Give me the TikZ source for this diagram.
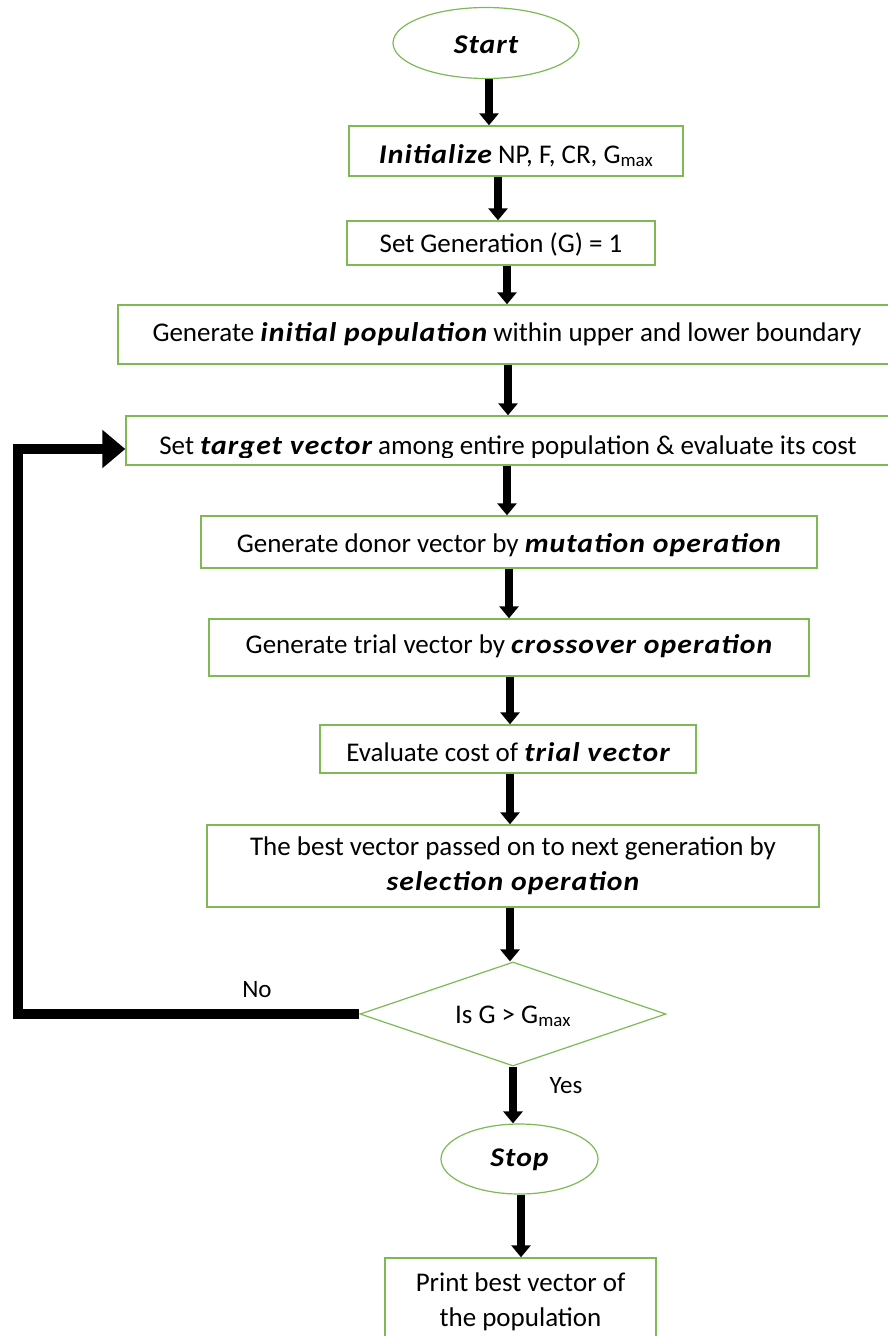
\documentclass[tikz,border=0pt]{standalone}
\usepackage{fontspec}
\setmainfont{Carlito}
% wider, heavier face for the emphasised words
\newfontfamily\bifont{Carlito}[FakeStretch=1.1,LetterSpace=4]
\usetikzlibrary{arrows.meta,shapes.geometric}
\definecolor{boxgreen}{RGB}{125,185,85}
\newcommand{\bi}[1]{{\bifont\bfseries\itshape #1}}

\begin{document}
\begin{tikzpicture}[x=1pt,y=-1pt,
  every node/.style={font=\fontsize{27}{35}\selectfont, inner sep=0pt, align=center},
  box/.style={draw=boxgreen, line width=1.4pt, rectangle, fill=white},
  oval/.style={draw=boxgreen, line width=1.2pt, ellipse},
  decision/.style={draw=boxgreen, line width=1.2pt, diamond, aspect=3},
  % text height sets how far the line of text sits below the node centre
  txt/.style={text height=#1, text depth=5.4pt},
  flow/.style={line width=8pt, -{Triangle[width=19pt,length=12pt]}},
  back/.style={line width=10pt, line join=miter, -{Triangle[width=37pt,length=23pt]}},
  lbl/.style={font=\fontsize{25}{28}\selectfont}]

\useasboundingbox (0,0) rectangle (887,1336);

% process steps
\node[oval, txt=27pt, minimum width=186pt, minimum height=71pt] (start) at (486,43) {\bi{Start}};
\node[box, txt=29.8pt, minimum width=334pt, minimum height=50pt] (init) at (516,151)
  {\bi{Initialize} NP, F, CR, G\textsubscript{max}};
\node[box, txt=23.8pt, minimum width=308pt, minimum height=44pt] (setgen) at (501,243)
  {Set Generation (G) = 1};
\node[box, txt=18.8pt, minimum width=778pt, minimum height=59pt] (geninit) at (507,334.5)
  {Generate \bi{initial population} within upper and lower boundary};
\node[box, minimum width=764pt, minimum height=49pt] (target) at (508,440.5) {};
\begin{scope}
  \clip (126,416) rectangle (890,457);
  \node[anchor=base] (targettext) at (508,454)
    {Set \bi{target vector} among entire population \& evaluate its cost};
\end{scope}
\node[box, txt=25.8pt, minimum width=616pt, minimum height=52pt] (donor) at (509,542)
  {Generate donor vector by \bi{mutation operation}};
\node[box, txt=17.8pt, minimum width=600pt, minimum height=57pt] (trial) at (509,647.5)
  {Generate trial vector by \bi{crossover operation}};
\node[box, txt=29.8pt, minimum width=376pt, minimum height=48pt] (eval) at (508,749)
  {Evaluate cost of \bi{trial vector}};
\node[box, minimum width=612pt, minimum height=82pt] (best) at (513,866)
  {The best vector passed on to next generation by\\ \bi{selection operation}};
\node[decision, txt=23.8pt, minimum width=306pt, minimum height=104pt] (dec) at (513,1014)
  {Is G > G\textsubscript{max}};
\node[oval, txt=19.8pt, minimum width=157pt, minimum height=70pt] (stop) at (519.5,1159) {\bi{Stop}};
\node[box, minimum width=271pt, minimum height=87pt] (print) at (520.5,1301.5)
  {Print best vector of\\ the population};

% columns of the downward connectors
\coordinate (x1) at (489,0);
\coordinate (x2) at (498,0);
\coordinate (x3) at (507,0);
\coordinate (x4) at (508,0);
\coordinate (x5) at (507,0);
\coordinate (x6) at (509,0);
\coordinate (x7) at (510,0);
\coordinate (x8) at (510,0);
\coordinate (x9) at (510,0);
\coordinate (x10) at (513,0);
\coordinate (x11) at (521,0);

\draw[flow] (start.south -| x1) -- (init.north -| x1);
\draw[flow] (init.south -| x2) -- (setgen.north -| x2);
\draw[flow] (setgen.south -| x3) -- (geninit.north -| x3);
\draw[flow] (geninit.south -| x4) -- (target.north -| x4);
\draw[flow] (target.south -| x5) -- (donor.north -| x5);
\draw[flow] (donor.south -| x6) -- (trial.north -| x6);
\draw[flow] (trial.south -| x7) -- (eval.north -| x7);
\draw[flow] (eval.south -| x8) -- (best.north -| x8);
\draw[flow] (best.south -| x9) -- (dec.north -| x9);
\draw[flow] (dec.south -| x10) -- (stop.north -| x10);
\draw[flow] (stop.south -| x11) -- (print.north -| x11);

% loop back to the target vector step
\coordinate (loopcorner) at (17.5,449);
\draw[back] (dec.west) -| (loopcorner) -- (target.west |- loopcorner);

% branch labels
\node[lbl] (nolabel) at (257,990) {No};
\node[lbl] (yeslabel) at (566,1086) {Yes};
\end{tikzpicture}
\end{document}
